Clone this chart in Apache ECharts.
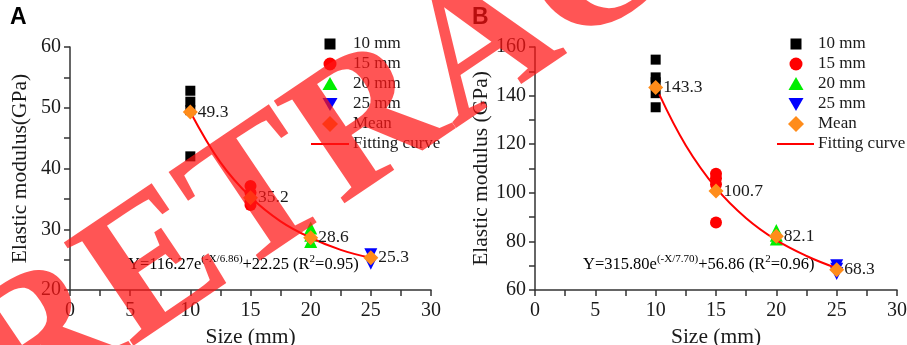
<!DOCTYPE html>
<html>
<head>
<meta charset="utf-8">
<script src="https://cdn.jsdelivr.net/npm/echarts@6/dist/echarts.min.js"></script>
<style>
  html, body { margin: 0; padding: 0; background: #fff; }
  #chart { width: 907px; height: 345px; }
</style>
</head>
<body>
<div id="chart"></div>
<script>
// Specimen sizes (mm)
const sizes = [10, 15, 20, 25];
const sizeNames = ['10 mm', '15 mm', '20 mm', '25 mm'];
const legendNames = ['10 mm', '15 mm', '20 mm', '25 mm', 'Mean', 'Fitting curve'];

// Panel A: elastic modulus per specimen (GPa)
const a10 = [52.8, 51.0, 49.6, 42.0];
const a15 = [37.1, 36.0, 34.6, 34.0];
const a20 = [30.2, 29.0, 28.0];
const a25 = [25.8, 24.4];
const aMean = [49.3, 35.2, 28.6, 25.3];
const aFitX = [10, 12.5, 15, 17.5, 20, 22.5, 25];
const aFitY = [49.3, 41.0, 35.3, 31.3, 28.6, 26.6, 25.3];

// Panel B: elastic modulus per specimen (GPa)
const b10 = [154.8, 147.5, 145.5, 141.0, 135.2];
const b15 = [107.8, 106.0, 103.5, 87.8];
const b20 = [84.5, 82.5, 81.0];
const b25 = [70.0, 68.5, 66.8];
const bMean = [143.3, 100.7, 82.1, 68.3];
const bFitX = [10.3, 12.5, 15, 17.5, 20, 22.5, 25];
const bFitY = [140.5, 119.5, 102.0, 89.5, 80.5, 74.0, 69.0];

const serif = 'Liberation Serif';
const ink = '#1a1a1a';
const axisColor = '#333';
const meanColor = '#ff8c1a';
const fitColor = '#ff0000';

const groupStyles = [
  { symbol: 'rect', size: 10, color: '#000000' },
  { symbol: 'circle', size: 12, color: '#ff0000' },
  { symbol: 'triangle', size: 13, color: '#00ee00' },
  { symbol: 'path://M0,0 L10,0 L5,10 Z', size: 13, color: '#0000ff' }
];

function xAxisFor(gridIndex) {
  return {
    gridIndex, type: 'value', min: 0, max: 30, interval: 5,
    name: 'Size (mm)', nameLocation: 'middle', nameGap: 29,
    nameTextStyle: { fontFamily: serif, fontSize: 21.5, color: ink },
    axisLine: { show: true, onZero: false, lineStyle: { color: axisColor, width: 1.5 } },
    axisTick: { show: true, inside: false, length: 6, lineStyle: { color: axisColor, width: 1.5 } },
    minorTick: { show: true, splitNumber: 2, length: 6, lineStyle: { color: axisColor, width: 1.5 } },
    axisLabel: { fontFamily: serif, fontSize: 20, color: ink, margin: 11 },
    splitLine: { show: false }
  };
}

function yAxisFor(gridIndex, min, max, interval, name, gap) {
  return {
    gridIndex, type: 'value', min, max, interval,
    name, nameLocation: 'middle', nameGap: gap, nameRotate: 90,
    nameTextStyle: { fontFamily: serif, fontSize: 21.5, color: ink },
    axisLine: { show: true, onZero: false, lineStyle: { color: axisColor, width: 1.5 } },
    axisTick: { show: true, inside: false, length: 6, lineStyle: { color: axisColor, width: 1.5 } },
    minorTick: { show: true, splitNumber: 2, length: 6, lineStyle: { color: axisColor, width: 1.5 } },
    axisLabel: { fontFamily: serif, fontSize: 20, color: ink, margin: 9 },
    splitLine: { show: false }
  };
}

function panelSeries(axisIndex, groups, means, fitX, fitY) {
  const out = [];
  groups.forEach((vals, i) => {
    const st = groupStyles[i];
    out.push({
      name: sizeNames[i], type: 'scatter',
      xAxisIndex: axisIndex, yAxisIndex: axisIndex,
      symbol: st.symbol, symbolSize: st.size,
      itemStyle: { color: st.color, opacity: 1 },
      data: vals.map(v => [sizes[i], v]),
      z: 3
    });
  });
  out.push({
    name: 'Fitting curve', type: 'line',
    xAxisIndex: axisIndex, yAxisIndex: axisIndex,
    smooth: 0.4, showSymbol: false, symbol: 'none',
    lineStyle: { color: fitColor, width: 2 },
    itemStyle: { color: fitColor },
    data: fitX.map((x, i) => [x, fitY[i]]),
    z: 4
  });
  out.push({
    name: 'Mean', type: 'scatter',
    xAxisIndex: axisIndex, yAxisIndex: axisIndex,
    symbol: 'diamond', symbolSize: 15,
    itemStyle: { color: meanColor, opacity: 1 },
    label: {
      show: true, position: 'right', distance: 0,
      fontFamily: serif, fontSize: 17.5, color: ink,
      formatter: p => p.value[1].toFixed(1)
    },
    data: means.map((v, i) => [sizes[i], v]),
    z: 5
  });
  return out;
}

// Key drawn as a column of symbols with labels
function legendGraphics(symX, textX, top, lineX0, lineX1) {
  const step = 20;
  const els = [];
  const y = i => top + i * step;
  els.push({ type: 'rect', shape: { x: symX - 5.5, y: y(0) - 5.5, width: 11, height: 11 }, style: { fill: '#000' } });
  els.push({ type: 'circle', shape: { cx: symX, cy: y(1), r: 6.5 }, style: { fill: '#ff0000' } });
  els.push({ type: 'polygon', shape: { points: [[symX, y(2) - 7], [symX + 7.5, y(2) + 6], [symX - 7.5, y(2) + 6]] }, style: { fill: '#00ee00' } });
  els.push({ type: 'polygon', shape: { points: [[symX - 7.5, y(3) - 6], [symX + 7.5, y(3) - 6], [symX, y(3) + 7]] }, style: { fill: '#0000ff' } });
  els.push({ type: 'polygon', shape: { points: [[symX, y(4) - 8], [symX + 8, y(4)], [symX, y(4) + 8], [symX - 8, y(4)]] }, style: { fill: meanColor } });
  els.push({ type: 'line', shape: { x1: lineX0, y1: y(5), x2: lineX1, y2: y(5) }, style: { stroke: fitColor, lineWidth: 2 } });
  legendNames.forEach((n, i) => {
    els.push({
      type: 'text', x: textX, y: y(i),
      style: { text: n, fontFamily: serif, fontSize: 17, fill: ink, verticalAlign: 'middle', align: 'left' }
    });
  });
  return els;
}

const eqRich = {
  a: { fontFamily: serif, fontSize: 16.5, color: ink, lineHeight: 22, verticalAlign: 'bottom' },
  s: { fontFamily: serif, fontSize: 11, color: ink, lineHeight: 22, verticalAlign: 'bottom', padding: [0, 0, 8, 0] }
};

const chart = echarts.init(document.getElementById('chart'), null, { renderer: 'canvas' });

const option = {
  animation: false,
  backgroundColor: '#ffffff',
  grid: [
    { left: 70, right: 476, top: 47, bottom: 55, containLabel: false, outerBoundsMode: 'none' },
    { left: 535, right: 10, top: 47, bottom: 55, containLabel: false, outerBoundsMode: 'none' }
  ],
  xAxis: [xAxisFor(0), xAxisFor(1)],
  yAxis: [
    yAxisFor(0, 20, 60, 10, 'Elastic modulus(GPa)', 39),
    yAxisFor(1, 60, 160, 20, 'Elastic modulus (GPa)', 43)
  ],
  series: [
    ...panelSeries(0, [a10, a15, a20, a25], aMean, aFitX, aFitY),
    ...panelSeries(1, [b10, b15, b20, b25], bMean, bFitX, bFitY)
  ],
  graphic: [
    ...legendGraphics(330, 353, 44, 311, 349),
    ...legendGraphics(796, 818, 44, 777, 814),
    {
      type: 'text', left: 10, top: 6,
      style: { text: 'A', fontFamily: 'Liberation Sans', fontWeight: 'bold', fontSize: 23, fill: '#000' }
    },
    {
      type: 'text', left: 472, top: 6,
      style: { text: 'B', fontFamily: 'Liberation Sans', fontWeight: 'bold', fontSize: 23, fill: '#000' }
    },
    {
      type: 'text', left: 128, top: 254,
      style: {
        text: '{a|Y=116.27e}{s|(-X/6.86)}{a|+22.25 (R}{s|2}{a|=0.95)}',
        rich: eqRich
      }
    },
    {
      type: 'text', left: 583, top: 254,
      style: {
        text: '{a|Y=315.80e}{s|(-X/7.70)}{a|+56.86 (R}{s|2}{a|=0.96)}',
        rich: eqRich
      }
    },
    {
      // RETRACTED stamp across both panels
      type: 'text', x: 484, y: 50, rotation: 34 * Math.PI / 180, z: 100,
      style: {
        text: 'RETRACTED', fontFamily: serif, fontWeight: 'bold', fontSize: 190,
        fill: 'rgba(255, 20, 20, 0.72)', align: 'center', verticalAlign: 'middle'
      }
    }
  ]
};

chart.setOption(option);
</script>
</body>
</html>
